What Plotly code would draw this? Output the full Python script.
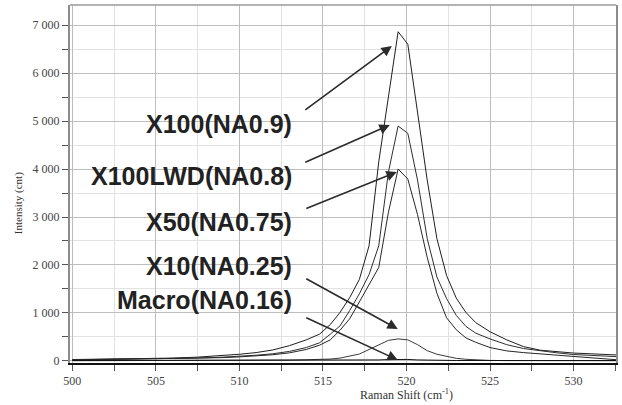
import plotly.graph_objects as go

# Raman shift sampling (cm-1): coarse in the wings, ~0.58 cm-1 around the Si peak
raman_shift = [500, 501.5, 503, 504.5, 506, 507.5, 509, 510, 511, 512, 513, 514, 514.8,
               515.44, 516.02, 516.6, 517.18, 517.76, 518.34, 518.92, 519.5, 520.08,
               520.66, 521.24, 521.82, 522.4, 522.98, 523.56, 524.14,
               525, 526, 527, 528, 529, 530, 531, 532.6]

# Intensity (cnt) for each objective
x100 = [30, 35, 40, 50, 60, 80, 110, 140, 175, 230, 320, 440, 560,
        760, 1010, 1320, 1700, 2400, 4150, 5490, 6860, 6600,
        5200, 3770, 2550, 1780, 1310, 1010, 800,
        610, 440, 300, 225, 190, 165, 150, 125]
x100lwd = [25, 30, 35, 40, 50, 60, 80, 95, 120, 150, 200, 280, 380,
           560, 730, 1050, 1400, 1800, 2400, 3940, 4895, 4743,
           3770, 2550, 1750, 1300, 950, 720, 580,
           460, 340, 260, 210, 170, 135, 115, 90]
x50 = [22, 28, 32, 38, 45, 55, 70, 85, 100, 130, 170, 240, 330,
       440, 640, 880, 1230, 1600, 1950, 3100, 4000, 3790,
       3050, 2160, 1410, 900, 650, 480, 390,
       280, 210, 175, 150, 120, 95, 70, 25]
x10 = [5, 5, 6, 6, 7, 8, 9, 10, 11, 12, 18, 25, 32,
       40, 60, 95, 145, 240, 340, 430, 460, 440,
       340, 215, 140, 95, 55, 35, 22,
       12, 8, 6, 5, 5, 5, 5, 5]
macro = [10, 10, 10, 10, 10, 10, 10, 10, 10, 10, 10, 10, 11,
         11, 12, 13, 14, 16, 22, 30, 35, 32,
         22, 15, 12, 11, 10, 10, 10,
         10, 10, 10, 10, 10, 10, 10, 10]

series = [("X100(NA0.9)", x100, "#1e1e1e"),
          ("X100LWD(NA0.8)", x100lwd, "#2e2e2e"),
          ("X50(NA0.75)", x50, "#262626"),
          ("X10(NA0.25)", x10, "#3a3a3a"),
          ("Macro(NA0.16)", macro, "#111111")]

y_tickvals = [0, 1000, 2000, 3000, 4000, 5000, 6000, 7000]
y_ticktext = ["0", "1 000", "2 000", "3 000", "4 000", "5 000", "6 000", "7 000"]

W, H = 622, 405
L, R, T, B = 70, 4, 5, 42
PW, PH = W - L - R, H - T - B


def px(xp):
    return (xp - L) / PW


def py(yp):
    return (H - B - yp) / PH


fig = go.Figure()
for name, vals, col in series:
    fig.add_trace(go.Scatter(x=raman_shift, y=vals, mode="lines", name=name,
                             line=dict(color=col, width=1), showlegend=False))

# label text, right edge, vertical centre, arrow tail and arrow tip (pixels)
labels = [
    ("X100(NA0.9)", 124, (305, 111), (393, 46), (100, 140)),
    ("X100LWD(NA0.8)", 176, (305, 163), (391, 125), (155, 196)),
    ("X50(NA0.75)", 222, (306, 209), (398, 172), (202, 243)),
    ("X10(NA0.25)", 266, (306, 278), (399, 329), (248, 284)),
    ("Macro(NA0.16)", 300, (306, 317), (399, 360), (285, 316)),
]

shapes = []
annotations = []
for text, yc, tail, tip, (y0, y1) in labels:
    shapes.append(dict(type="rect", xref="paper", yref="paper",
                       x0=px(84), x1=px(307), y0=py(y1), y1=py(y0),
                       fillcolor="white", line=dict(width=0), layer="between"))
    annotations.append(dict(text=text, xref="paper", yref="paper",
                            x=px(295), y=py(yc), xanchor="right", yanchor="middle",
                            showarrow=False,
                            font=dict(family="Liberation Sans", size=25,
                                      color="#222222", weight="bold")))
    annotations.append(dict(text="", xref="paper", yref="paper",
                            x=px(tip[0]), y=py(tip[1]),
                            axref="pixel", ayref="pixel",
                            ax=tail[0] - tip[0], ay=tail[1] - tip[1],
                            showarrow=True, arrowhead=2, arrowsize=1.3,
                            arrowwidth=1.6, arrowcolor="#2b2b2b", standoff=0))

# axis titles
annotations.append(dict(text="Raman Shift (cm<sup>-1</sup>)", xref="paper", yref="paper",
                        x=px(408), y=py(395), xanchor="center", yanchor="middle",
                        showarrow=False,
                        font=dict(family="Liberation Serif", size=12, color="#333333")))
annotations.append(dict(text="Intensity (cnt)", xref="paper", yref="paper",
                        x=px(18), y=py(203), xanchor="center", yanchor="middle",
                        textangle=-90, showarrow=False,
                        font=dict(family="Liberation Serif", size=11, color="#333333")))

# top border of the plot frame
shapes.append(dict(type="line", xref="paper", yref="paper", x0=0, x1=1, y0=1, y1=1,
                   line=dict(color="#9a9a9a", width=1.5)))

fig.update_layout(
    width=W, height=H,
    margin=dict(l=L, r=R, t=T, b=B),
    paper_bgcolor="white", plot_bgcolor="white",
    shapes=shapes, annotations=annotations,
    xaxis=dict(range=[499.86, 532.54], tick0=500, dtick=5,
               showgrid=True, gridcolor="#bdbdbd", gridwidth=1,
               ticks="outside", ticklen=6, tickcolor="#555555",
               showline=True, linecolor="#111111", linewidth=1.5,
               zeroline=False,
               tickfont=dict(family="Liberation Serif", size=12, color="#444444"),
               minor=dict(dtick=2.5, showgrid=True, gridcolor="#e2e2e2",
                          ticks="outside", ticklen=6, tickcolor="#555555")),
    yaxis=dict(range=[-42, 7417], tickmode="array",
               tickvals=y_tickvals, ticktext=y_ticktext,
               showgrid=True, gridcolor="#bdbdbd", gridwidth=1,
               ticks="outside", ticklen=6, tickcolor="#555555",
               showline=True, linecolor="#8c8c8c", linewidth=2, mirror=True,
               zeroline=False,
               tickfont=dict(family="Liberation Serif", size=12, color="#444444"),
               minor=dict(tickmode="linear", tick0=0, dtick=500, showgrid=True,
                          gridcolor="#e2e2e2", ticks="outside", ticklen=6,
                          tickcolor="#555555")),
)

fig.write_html("out.html")
